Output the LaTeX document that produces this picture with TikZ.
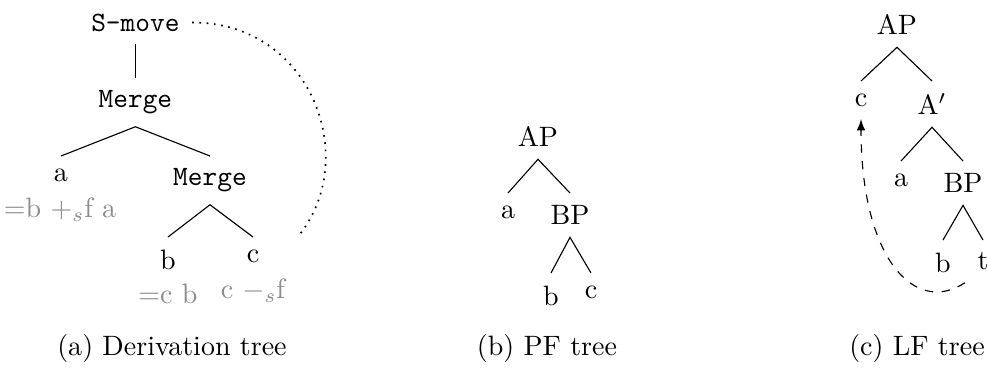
\documentclass[tikz,border=0pt]{standalone}
\usepackage{amsmath}
\usepackage{amssymb}
\usepackage{tikz}
\usepackage{xcolor}
\tikzset{
	tn/.style={anchor=north,inner sep=4.3pt},
	op/.style={tn,font=\ttfamily},
	feat/.style={anchor=base,text=black!45,inner sep=4.3pt},
	capt/.style={anchor=base}
}

\begin{document}
\begin{tikzpicture}[x=0.357pt,y=0.357pt]
\useasboundingbox (0,0) rectangle (988,-367);
%(a) derivation tree
\node[op] (smove) at (135.4,-1) {S-move};
\node[op] (mrgA) at (135.4,-78) {Merge};
\node[tn] (da) at (61,-156) {a};
\node[op] (mrgB) at (210,-156) {Merge};
\node[tn] (db) at (168,-237) {b};
\node[tn] (dc) at (253,-237) {c};
\node[feat] (daf) at (60,-217) {$=$b $+_s$f a};
\node[feat] (dbf) at (168,-303) {$=$c b};
\node[feat] (dcf) at (253,-298) {c $-_s$f};
\draw (smove.south) to (mrgA.north);
\draw (da.north) to (mrgA.south) to (mrgB.north);
\draw (db.north) to (mrgB.south) to (dc.north);
\draw[dotted,line width=0.6pt] (smove.east) .. controls +(120,0) and +(64,77) .. (dcf.east |- dc.north);
%(b) PF tree
\node[tn] (pAP) at (538,-114) {AP};
\node[tn] (pa) at (508,-193) {a};
\node[tn] (pBP) at (570,-193) {BP};
\node[tn] (pb) at (551,-273) {b};
\node[tn] (pc) at (591,-273) {c};
\draw (pa.north) to (pAP.south) to (pBP.north);
\draw (pb.north) to (pBP.south) to (pc.north);
%(c) LF tree
\node[tn] (lAP) at (897,-2) {AP};
\node[tn] (lc) at (861,-81) {c};
\node[tn] (lAbar) at (932,-81) {A$'$};
\node[tn] (la) at (901,-161) {a};
\node[tn] (lBP) at (963,-161) {BP};
\node[tn] (lb) at (943,-240) {b};
\node[tn] (lt) at (983,-240) {t};
\draw (lc.north) to (lAP.south) to (lAbar.north);
\draw (la.north) to (lAbar.south) to (lBP.north);
\draw (lb.north) to (lBP.south) to (lt.north);
\draw[dashed,-latex] (lt.south west) .. controls +(-50,-33) and +(0,-140) .. (lc.south);
%captions
\node[capt] (capa) at (172,-355) {(a) Derivation tree};
\node[capt] (capb) at (547,-355) {(b) PF tree};
\node[capt] (capc) at (917,-355) {(c) LF tree};
\end{tikzpicture}
\end{document}
